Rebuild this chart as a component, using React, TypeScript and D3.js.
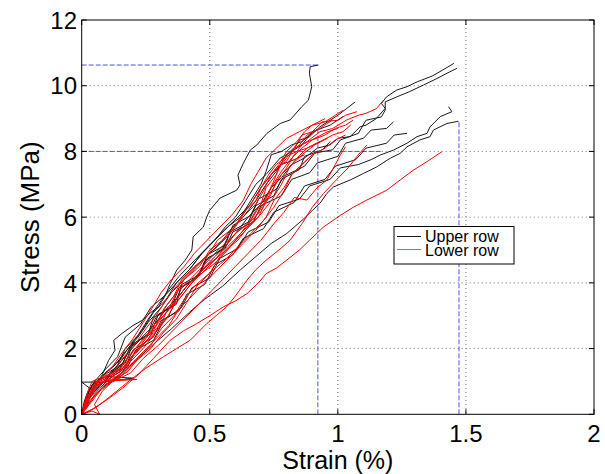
import React from "react";
import * as d3 from "d3";

type P = [number, number];

const xTicks = [0, 0.5, 1, 1.5, 2];
const xTickLabels = ["0", "0.5", "1", "1.5", "2"];
const yTicks = [0, 2, 4, 6, 8, 10, 12];
const yTickLabels = ["0", "2", "4", "6", "8", "10", "12"];
const legendLabels = ["Upper row", "Lower row"];

// Upper row (black)
const upperRow: P[][] = [
  [[0,0],[0.02,0.35],[0.05,0.8],[0.08,1.2],[0.105,1.64],[0.13,1.95],[0.125,2.25],[0.157,2.46],[0.2,2.7],[0.236,2.86],[0.27,3.1],[0.3,3.27],[0.325,3.6],[0.346,3.98],[0.371,4.39],[0.404,4.69],[0.43,5.0],[0.435,5.4],[0.475,5.7],[0.488,6.0],[0.5,6.21],[0.54,6.58],[0.605,6.82],[0.618,6.98],[0.61,7.28],[0.631,7.64],[0.658,8.04],[0.684,8.2],[0.723,8.55],[0.775,8.85],[0.814,8.96],[0.859,9.36],[0.885,9.56],[0.898,9.97],[0.889,10.38],[0.892,10.58],[0.924,10.63]],
  [[0,0],[0.02,0.4],[0.05,0.85],[0.09,1.0],[0.13,1.4],[0.18,1.85],[0.23,2.3],[0.28,2.7],[0.33,3.2],[0.38,3.6],[0.42,4.0],[0.47,4.4],[0.52,4.8],[0.57,5.2],[0.61,5.6],[0.65,6.0],[0.7,6.4],[0.74,6.9],[0.78,7.2],[0.82,7.6],[0.87,7.8],[0.92,8.1],[0.97,8.2],[1.0,8.4],[1.048,8.45],[1.087,8.75],[1.11,8.8],[1.15,9.0],[1.185,9.31],[1.17,9.46],[1.19,9.66],[1.23,9.87],[1.27,9.97],[1.31,10.12],[1.37,10.3],[1.41,10.48],[1.453,10.68]],
  [[0,0],[0.03,0.55],[0.07,0.85],[0.11,1.25],[0.17,1.55],[0.2,2.15],[0.27,2.45],[0.3,3.05],[0.37,3.35],[0.39,3.95],[0.46,4.25],[0.49,4.85],[0.56,5.15],[0.59,5.75],[0.66,6.05],[0.69,6.55],[0.76,6.85],[0.79,7.25],[0.87,7.55],[0.91,7.95],[0.98,8.05],[1.01,8.35],[1.08,8.55],[1.11,8.95],[1.17,9.05],[1.185,9.26],[1.185,9.51],[1.23,9.66],[1.28,9.82],[1.334,10.02],[1.387,10.22],[1.426,10.38],[1.465,10.53]],
  [[0,0],[0.03,0.5],[0.07,0.8],[0.12,1.15],[0.18,1.45],[0.21,1.95],[0.28,2.25],[0.32,2.85],[0.39,3.25],[0.43,3.85],[0.5,4.15],[0.54,4.75],[0.61,5.05],[0.65,5.55],[0.73,5.85],[0.77,6.35],[0.85,6.55],[0.89,6.95],[0.97,7.15],[1.01,7.5],[1.08,7.6],[1.13,7.75],[1.165,7.89],[1.217,8.04],[1.27,8.25],[1.309,8.45],[1.348,8.55],[1.36,8.75],[1.4,9.06],[1.445,9.21],[1.432,9.36]],
  [[0,0],[0.03,0.4],[0.08,0.8],[0.15,1.2],[0.22,1.7],[0.29,2.2],[0.35,2.6],[0.42,3.1],[0.48,3.5],[0.55,3.9],[0.62,4.4],[0.68,4.8],[0.74,5.2],[0.8,5.5],[0.86,5.9],[0.9,6.2],[0.93,6.42],[0.957,6.72],[0.983,6.92],[1.048,7.13],[1.1,7.33],[1.152,7.53],[1.204,7.79],[1.243,7.94],[1.27,8.14],[1.32,8.35],[1.36,8.45],[1.373,8.65],[1.426,8.85],[1.471,8.92]],
  [[0,0],[0.02,0.5],[0.06,0.95],[0.1,1.25],[0.16,1.55],[0.19,2.05],[0.26,2.45],[0.29,2.95],[0.36,3.35],[0.39,3.85],[0.46,4.25],[0.49,4.75],[0.56,5.05],[0.59,5.55],[0.67,5.85],[0.7,6.35],[0.78,6.65],[0.82,7.15],[0.89,7.35],[0.92,7.65],[1.0,7.85],[1.03,8.25],[1.1,8.4],[1.13,8.65],[1.19,8.7],[1.217,8.9]],
  [[0,0],[0.03,0.5],[0.06,0.8],[0.11,1.15],[0.17,1.45],[0.2,1.95],[0.28,2.35],[0.31,2.85],[0.38,3.15],[0.41,3.65],[0.48,3.95],[0.52,4.55],[0.59,4.85],[0.63,5.35],[0.71,5.65],[0.75,6.15],[0.83,6.45],[0.87,6.95],[0.95,7.15],[0.99,7.55],[1.07,7.75],[1.11,8.1],[1.19,8.25],[1.22,8.5],[1.27,8.55]],
  [[0,0],[0.02,0.6],[0.05,1.0],[0.09,1.35],[0.14,1.75],[0.17,2.35],[0.23,2.75],[0.27,3.25],[0.33,3.65],[0.37,4.0],[0.42,4.4],[0.47,4.9],[0.52,5.3],[0.56,5.7],[0.6,6.0],[0.64,6.5],[0.68,7.0],[0.72,7.3],[0.775,7.8],[0.8,7.9],[0.833,8.14],[0.853,8.35],[0.89,8.45],[0.93,8.75],[1.0,9.1],[1.035,9.31],[1.068,9.51]],
  [[0,0],[0.02,0.45],[0.05,0.9],[0.09,1.25],[0.15,1.65],[0.19,2.1],[0.24,2.6],[0.28,3.1],[0.33,3.5],[0.37,4.0],[0.42,4.4],[0.47,4.9],[0.52,5.3],[0.57,5.7],[0.62,6.0],[0.66,6.5],[0.7,7.0],[0.72,7.4],[0.74,7.9],[0.78,8.0],[0.82,8.2],[0.86,8.3],[0.89,8.5],[0.918,8.67]],
  [[0,0],[0.02,0.5],[0.04,0.9],[0.08,1.15],[0.13,1.5],[0.17,1.9],[0.22,2.35],[0.26,2.8],[0.31,3.25],[0.35,3.7],[0.4,4.1],[0.45,4.5],[0.5,4.9],[0.55,5.3],[0.59,5.7],[0.63,6.0],[0.68,6.5],[0.72,7.0],[0.76,7.4],[0.8,7.9],[0.86,8.2],[0.9,8.6],[0.97,8.8],[1.02,9.06]],
  [[0,0],[0.01,0.4],[0.03,0.8],[0.0,0.98],[0.09,0.98],[0.11,1.2],[0.16,1.55],[0.19,2.05],[0.26,2.45],[0.28,2.95],[0.35,3.25],[0.38,3.85],[0.45,4.15],[0.48,4.65],[0.55,5.05],[0.58,5.55],[0.65,5.85],[0.68,6.35],[0.75,6.65],[0.78,7.15],[0.85,7.45],[0.87,7.85],[0.94,8.05],[0.97,8.3]],
  [[0,0],[0.02,0.6],[0.05,0.95],[0.2,1.1],[0.1,1.15],[0.14,1.5],[0.17,2.0],[0.22,2.4],[0.26,2.9],[0.3,3.35],[0.34,3.8],[0.38,4.2],[0.43,4.6],[0.48,5.0],[0.53,5.4],[0.57,5.7],[0.61,6.0],[0.66,6.4],[0.7,6.9],[0.74,7.3],[0.78,7.6],[0.83,7.75],[0.87,7.9]],
];

// Lower row (red)
const lowerRow: P[][] = [
  [[0,0],[0.04,0.15],[0.1,0.45],[0.16,0.8],[0.22,1.2],[0.28,1.7],[0.345,2.25],[0.4,2.55],[0.449,2.76],[0.5,3.0],[0.553,3.27],[0.6,3.45],[0.645,3.67],[0.69,4.0],[0.72,4.28],[0.76,4.45],[0.8,4.69],[0.85,5.0],[0.89,5.3],[0.944,5.7],[1.009,6.05],[1.06,6.3],[1.113,6.52],[1.191,6.82],[1.243,7.13],[1.295,7.43],[1.35,7.7],[1.406,7.99]],
  [[0,0],[0.03,0.1],[0.059,0.22],[0.12,0.6],[0.189,1.04],[0.25,1.4],[0.319,1.75],[0.37,2.0],[0.423,2.25],[0.488,2.76],[0.566,3.27],[0.6,3.6],[0.645,4.08],[0.68,4.4],[0.72,4.69],[0.77,5.0],[0.814,5.3],[0.86,5.8],[0.9,6.3],[0.944,6.72],[0.99,7.1],[1.04,7.5],[1.08,7.9],[1.113,8.19]],
  [[0,0],[0.03,0.5],[0.06,0.9],[0.1,1.05],[0.15,1.3],[0.2,1.8],[0.24,2.2],[0.29,2.7],[0.33,3.3],[0.37,3.7],[0.4,4.1],[0.46,4.5],[0.5,5.0],[0.55,5.3],[0.6,5.7],[0.64,6.2],[0.68,6.5],[0.7,6.9],[0.73,7.2],[0.76,7.5],[0.8,7.7],[0.83,8.1],[0.88,8.3],[0.93,8.6],[0.98,8.7],[1.035,8.96],[1.08,9.1],[1.11,9.16],[1.15,9.3],[1.178,9.56]],
  [[0,0],[0.02,0.4],[0.04,0.8],[0.07,1.0],[0.11,1.15],[0.17,1.5],[0.21,1.9],[0.26,2.3],[0.3,2.8],[0.34,3.2],[0.37,3.7],[0.41,4.0],[0.46,4.4],[0.52,4.9],[0.56,5.2],[0.6,5.5],[0.66,5.9],[0.7,6.4],[0.72,6.9],[0.76,7.3],[0.79,7.8],[0.83,8.1],[0.86,8.5],[0.9,8.6],[0.94,8.9],[1.0,8.95],[1.03,9.1],[1.074,9.21]],
  [[0,0],[0.03,0.6],[0.05,0.95],[0.09,1.15],[0.15,1.4],[0.2,1.9],[0.24,2.3],[0.29,2.7],[0.32,3.2],[0.36,3.6],[0.39,4.1],[0.44,4.5],[0.49,4.8],[0.53,5.3],[0.58,5.6],[0.63,6.0],[0.68,6.4],[0.71,6.8],[0.74,7.3],[0.77,7.6],[0.8,8.0],[0.84,8.3],[0.87,8.6],[0.9,8.8],[0.95,8.9],[0.99,9.1],[1.02,9.25]],
  [[0,0],[0.01,0.3],[0.04,0.7],[0.08,1.0],[0.215,1.06],[0.12,1.05],[0.16,1.3],[0.2,1.8],[0.25,2.2],[0.3,2.6],[0.33,3.1],[0.38,3.5],[0.43,4.0],[0.47,4.3],[0.52,4.6],[0.57,5.0],[0.61,5.4],[0.65,5.8],[0.68,6.2],[0.72,6.6],[0.75,7.1],[0.77,7.5],[0.81,7.9],[0.85,8.2],[0.88,8.5],[0.93,8.7],[0.98,8.96]],
  [[0,0],[0.02,0.2],[0.05,0.6],[0.1,0.95],[0.16,1.2],[0.21,1.6],[0.27,2.0],[0.32,2.5],[0.37,2.9],[0.41,3.4],[0.45,3.9],[0.5,4.3],[0.56,4.7],[0.61,5.1],[0.66,5.5],[0.71,5.9],[0.75,6.3],[0.79,6.8],[0.82,7.3],[0.86,7.6],[0.9,7.9],[0.95,8.1],[0.99,8.35],[1.03,8.5]],
  [[0,0],[0.03,0.45],[0.06,0.85],[0.1,1.05],[0.15,1.3],[0.2,1.75],[0.25,2.2],[0.29,2.6],[0.34,3.0],[0.37,3.5],[0.41,3.9],[0.47,4.3],[0.52,4.7],[0.56,5.1],[0.6,5.5],[0.65,5.8],[0.7,6.2],[0.74,6.7],[0.76,7.1],[0.8,7.5],[0.83,7.9],[0.86,8.2],[0.91,8.4],[0.96,8.6],[1.0,8.7]],
  [[0,0],[0.04,0.1],[0.07,0.0],[0.05,0.3],[0.08,0.7],[0.12,1.0],[0.18,1.3],[0.22,1.7],[0.27,2.1],[0.31,2.6],[0.36,3.0],[0.4,3.5],[0.44,3.9],[0.5,4.3],[0.54,4.8],[0.59,5.2],[0.64,5.6],[0.69,6.0],[0.72,6.5],[0.75,6.9],[0.78,7.3],[0.82,7.6],[0.86,7.9],[0.91,8.2],[0.96,8.4]],
  [[0,0],[0.02,0.5],[0.06,0.9],[0.1,1.0],[0.15,1.2],[0.19,1.6],[0.24,2.0],[0.28,2.4],[0.33,2.9],[0.36,3.3],[0.41,3.8],[0.45,4.2],[0.5,4.6],[0.55,4.9],[0.61,5.3],[0.65,5.7],[0.7,6.1],[0.74,6.5],[0.78,7.0],[0.81,7.5],[0.84,7.8],[0.88,8.1],[0.93,8.3],[0.98,8.5],[1.02,8.6],[1.05,8.8]],
  [[0,0],[0.02,0.35],[0.04,0.75],[0.07,1.05],[0.12,1.25],[0.16,1.7],[0.21,2.15],[0.25,2.6],[0.29,3.0],[0.33,3.5],[0.37,3.9],[0.42,4.3],[0.47,4.7],[0.53,5.1],[0.58,5.5],[0.62,6.0],[0.66,6.4],[0.7,6.9],[0.73,7.3],[0.76,7.6],[0.8,7.85],[0.84,8.0],[0.88,8.1],[0.93,8.3]],
  [[0,0],[0.03,0.3],[0.07,0.7],[0.12,1.0],[0.19,1.25],[0.24,1.7],[0.3,2.1],[0.35,2.5],[0.4,2.9],[0.45,3.3],[0.5,3.7],[0.55,4.1],[0.6,4.5],[0.65,4.9],[0.7,5.3],[0.75,5.8],[0.79,6.15],[0.83,6.6],[0.879,6.52],[0.92,6.9],[0.957,7.13],[0.99,7.6],[1.01,7.9],[1.03,8.14]],
  [[0,0],[0.02,0.6],[0.04,1.0],[0.07,1.1],[0.12,1.45],[0.16,1.9],[0.2,2.3],[0.24,2.8],[0.28,3.3],[0.31,3.7],[0.35,4.1],[0.4,4.5],[0.44,4.9],[0.49,5.3],[0.54,5.7],[0.59,6.1],[0.63,6.5],[0.66,7.0],[0.69,7.4],[0.72,7.8],[0.76,8.1],[0.8,8.4],[0.85,8.6],[0.9,8.8],[0.95,9.0]],
  [[0,0],[0.03,0.55],[0.06,1.0],[0.1,1.15],[0.15,1.4],[0.19,1.85],[0.24,2.25],[0.28,2.7],[0.33,3.1],[0.38,3.6],[0.42,4.0],[0.47,4.4],[0.52,4.7],[0.57,5.1],[0.62,5.5],[0.67,5.9],[0.71,6.4],[0.74,6.9],[0.78,7.4],[0.82,7.8],[0.86,8.1],[0.9,8.35],[0.95,8.5],[0.99,8.7],[1.03,8.8],[1.06,8.95]],
  [[0,0],[0.02,0.25],[0.05,0.55],[0.09,0.9],[0.14,1.05],[0.19,1.5],[0.24,1.9],[0.29,2.3],[0.34,2.7],[0.38,3.2],[0.43,3.6],[0.48,4.0],[0.53,4.4],[0.58,4.8],[0.63,5.2],[0.68,5.6],[0.72,6.0],[0.75,6.5],[0.79,6.9],[0.82,7.3],[0.86,7.6],[0.9,7.9]],
];

// Reference (blue dashed) lines
const refLines: P[][] = [
  [[0, 10.63], [0.923, 10.63]],
  [[0, 8.0], [1.176, 8.0]],
  [[0.922, 0], [0.922, 8.67]],
  [[1.473, 0], [1.473, 8.93]],
];

const W = 605, H = 474;
const left = 81.7, right = 594, top = 20, bottom = 414.3;

export default function App() {
  const x = d3.scaleLinear().domain([0, 2]).range([left, right]);
  const y = d3.scaleLinear().domain([0, 12]).range([bottom, top]);
  const line = d3.line<P>().x(d => x(d[0])).y(d => y(d[1]));
  const font = "'Liberation Sans', Arial, Helvetica, sans-serif";
  const tl = 5;
  return (
    <svg width={W} height={H} style={{ position: "absolute", left: 0, top: 0, background: "#fff" }} fontFamily={font}>
      <rect x={0} y={0} width={W} height={H} fill="#fff" />
      {xTicks.slice(1, -1).map((t, i) => (
        <line key={"gx" + i} x1={x(t)} x2={x(t)} y1={top} y2={bottom} stroke="#777" strokeWidth={1} strokeDasharray="1,3" />
      ))}
      {yTicks.slice(1, -1).map((t, i) => (
        <line key={"gy" + i} x1={left} x2={right} y1={y(t)} y2={y(t)} stroke="#777" strokeWidth={1} strokeDasharray="1,3" />
      ))}
      {refLines.map((d, i) => (
        <path key={"r" + i} d={line(d) || ""} fill="none" stroke="#5050ff" strokeWidth={1} strokeDasharray="5,2" />
      ))}
      {upperRow.map((d, i) => (
        <path key={"u" + i} d={line(d) || ""} fill="none" stroke="#1a1a1a" strokeWidth={1} strokeLinejoin="round" />
      ))}
      {lowerRow.map((d, i) => (
        <path key={"l" + i} d={line(d) || ""} fill="none" stroke="#ff0000" strokeWidth={1} strokeLinejoin="round" />
      ))}
      <rect x={left} y={top} width={right - left} height={bottom - top} fill="none" stroke="#000" strokeWidth={1} />
      {xTicks.map((t, i) => (
        <g key={"xt" + i}>
          <line x1={x(t)} x2={x(t)} y1={bottom} y2={bottom - tl} stroke="#000" />
          <line x1={x(t)} x2={x(t)} y1={top} y2={top + tl} stroke="#000" />
          <text x={x(t)} y={442} fontSize={24} textAnchor="middle" fill="#000">{xTickLabels[i]}</text>
        </g>
      ))}
      {yTicks.map((t, i) => (
        <g key={"yt" + i}>
          <line x1={left} x2={left + tl} y1={y(t)} y2={y(t)} stroke="#000" />
          <line x1={right} x2={right - tl} y1={y(t)} y2={y(t)} stroke="#000" />
          <text x={77} y={y(t)} dy="0.36em" fontSize={24} textAnchor="end" fill="#000">{yTickLabels[i]}</text>
        </g>
      ))}
      <text x={(left + right) / 2} y={469} fontSize={25} textAnchor="middle" fill="#000">Strain (%)</text>
      <text transform={`translate(39,${(top + bottom) / 2}) rotate(-90)`} fontSize={26} textAnchor="middle" fill="#000">Stress (MPa)</text>
      <g>
        <rect x={394} y={226.5} width={120} height={37.5} fill="#fff" stroke="#000" strokeWidth={1} />
        <line x1={397} x2={421} y1={236.5} y2={236.5} stroke="#1a1a1a" strokeWidth={1} />
        <line x1={397} x2={421} y1={249.5} y2={249.5} stroke="#ff5050" strokeWidth={1} />
        <text x={425} y={242} fontSize={16} fill="#000">{legendLabels[0]}</text>
        <text x={425} y={255.5} fontSize={16} fill="#000">{legendLabels[1]}</text>
      </g>
    </svg>
  );
}
